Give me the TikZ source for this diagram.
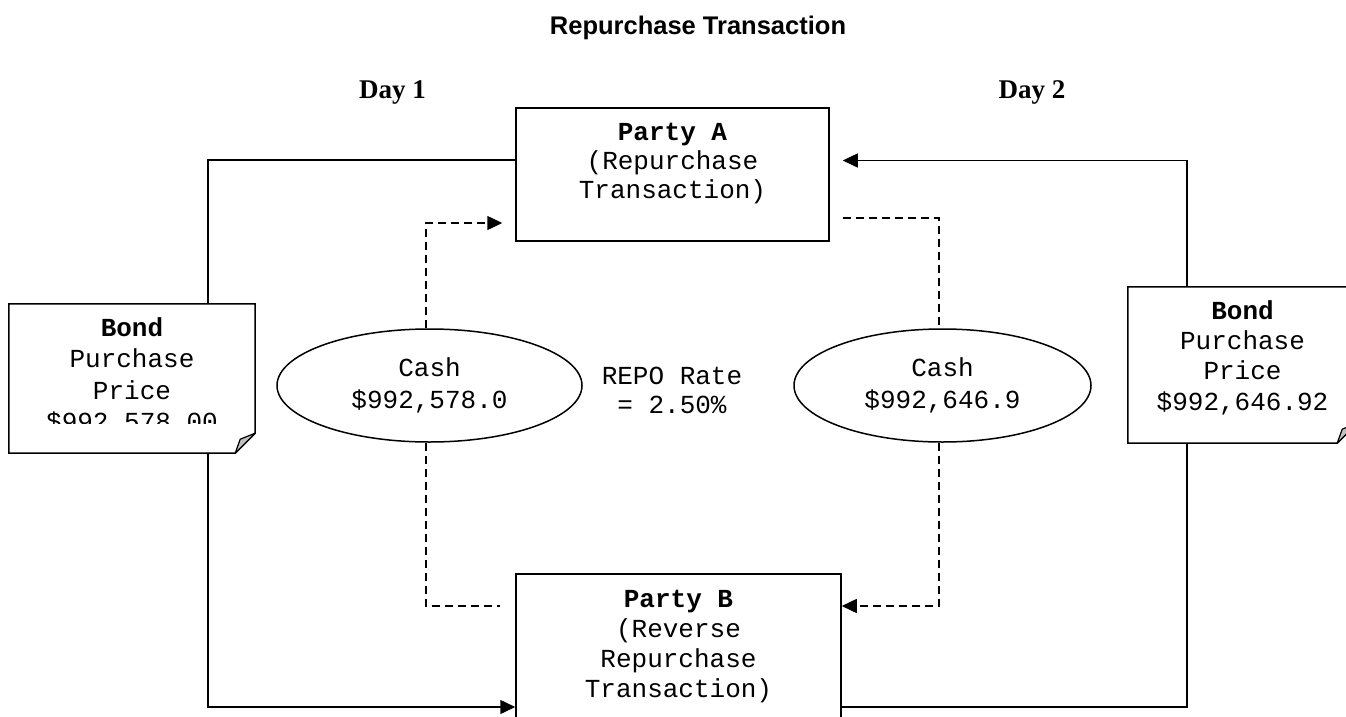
\documentclass[tikz,border=0pt]{standalone}
\usepackage{fontspec}
\setmainfont{Liberation Serif}
\newfontfamily\monof{Liberation Mono}
\newfontfamily\sansf{Liberation Sans}
\usetikzlibrary{arrows.meta,shapes.geometric,calc}

\begin{document}
\begin{tikzpicture}[x=1pt,y=-1pt,
  box/.style={draw,line width=1.5pt,inner sep=0},
  oval/.style={draw,ellipse,line width=1.5pt,inner sep=0,align=center,
    font=\monof\fontsize{26}{32}\selectfont},
  mono/.style={inner sep=0,align=center,font=\monof\fontsize{26}{#1}\selectfont},
  mono/.default=30,
  daylabel/.style={inner sep=0,anchor=base,font=\bfseries\fontsize{27}{32}\selectfont},
  wire/.style={line width=1.5pt},
  dashwire/.style={line width=1.5pt,dash pattern=on 8pt off 5pt},
  tip/.style={-{Triangle[length=15pt,width=14pt]}},
  flap/.style={fill=black!25,draw,line width=1.2pt,line join=round},
]
\useasboundingbox (0,0) rectangle (1346,717);
\clip (0,0) rectangle (1346,717);

% headings
\node[inner sep=0,anchor=base,font=\sansf\bfseries\fontsize{25.5}{30}\selectfont]
  (title) at (698,35) {Repurchase Transaction};
\node[daylabel] (day1) at (392.5,99) {Day 1};
\node[daylabel] (day2) at (1032,99) {Day 2};

% the two parties (text anchored at the baseline of its last line)
\node[box,minimum width=313pt,minimum height=133pt] (partyA) at (672.5,174.5) {};
\node[mono=29,anchor=base] (partyAtxt) at (672.5,198)
  {\textbf{Party A}\\(Repurchase\\Transaction)};
\node[box,minimum width=325pt,minimum height=166pt] (partyB) at (678.5,657) {};
\node[mono,anchor=base] (partyBtxt) at (678.5,697)
  {\textbf{Party B}\\(Reverse\\Repurchase\\Transaction)};

% bond notes with a folded corner
\node[minimum width=246pt,minimum height=149pt,inner sep=0] (noteL) at (132,378.5) {};
\draw[box,fill=white] (noteL.north west) -- (noteL.north east)
  -- ([yshift=20pt]noteL.south east) -- ([xshift=-20pt]noteL.south east)
  -- (noteL.south west) -- cycle;
\draw[flap] ([yshift=20pt]noteL.south east) -- ([xshift=-15pt,yshift=14pt]noteL.south east)
  -- ([xshift=-20pt]noteL.south east) -- cycle;
\begin{scope}
  \clip (noteL.north west) rectangle ([yshift=30pt]noteL.south east);
  \node[mono=31.5,anchor=base] (noteLtxt) at (132,430.5)
    {\textbf{Bond}\\Purchase\\Price\\\$992,578.00};
\end{scope}

\node[minimum width=229pt,minimum height=156pt,inner sep=0] (noteR) at (1242.5,365) {};
\draw[box,fill=white] (noteR.north west) -- (noteR.north east)
  -- ([yshift=20pt]noteR.south east) -- ([xshift=-20pt]noteR.south east)
  -- (noteR.south west) -- cycle;
\draw[flap] ([yshift=20pt]noteR.south east) -- ([xshift=-15pt,yshift=14pt]noteR.south east)
  -- ([xshift=-20pt]noteR.south east) -- cycle;
\node[mono=30.3,anchor=base] (noteRtxt) at (1242.5,410)
  {\textbf{Bond}\\Purchase\\Price\\\$992,646.92};

% cash legs and the rate
\node[oval,minimum width=305pt,minimum height=113pt] (cashL) at (429.5,385.5)
  {Cash\\\$992,578.0};
\node[oval,minimum width=297pt,minimum height=113pt] (cashR) at (942.5,385.5)
  {Cash\\\$992,646.9};
\node[mono=29,anchor=base] (rate) at (672,413) {REPO Rate\\= 2.50\%};

% bond flows
\draw[wire] ([xshift=76pt]noteL.north) |- ([yshift=14.5pt]partyA.west);
\draw[wire,tip] ([xshift=76pt]noteL.south) |- ([yshift=-50pt]partyB.west);
\draw[wire,tip] ([xshift=-55.5pt]noteR.north) |- ([xshift=13pt,yshift=14pt]partyA.east);
\draw[wire] ([xshift=-55.5pt]noteR.south) |- ([yshift=-50pt]partyB.east);

% cash flows
\draw[dashwire,tip] ([xshift=-3.5pt]cashL.north) |- ([xshift=-13pt,yshift=-48.5pt]partyA.west);
\draw[dashwire] ([xshift=13pt,yshift=-43.5pt]partyA.east) -| ([xshift=-3.5pt]cashR.north);
\draw[dashwire] ([xshift=-3.5pt]cashL.south) |- ([xshift=-15pt,yshift=51pt]partyB.west);
\draw[dashwire,tip] ([xshift=-3.5pt]cashR.south) |- ([yshift=51pt]partyB.east);
\end{tikzpicture}
\end{document}
